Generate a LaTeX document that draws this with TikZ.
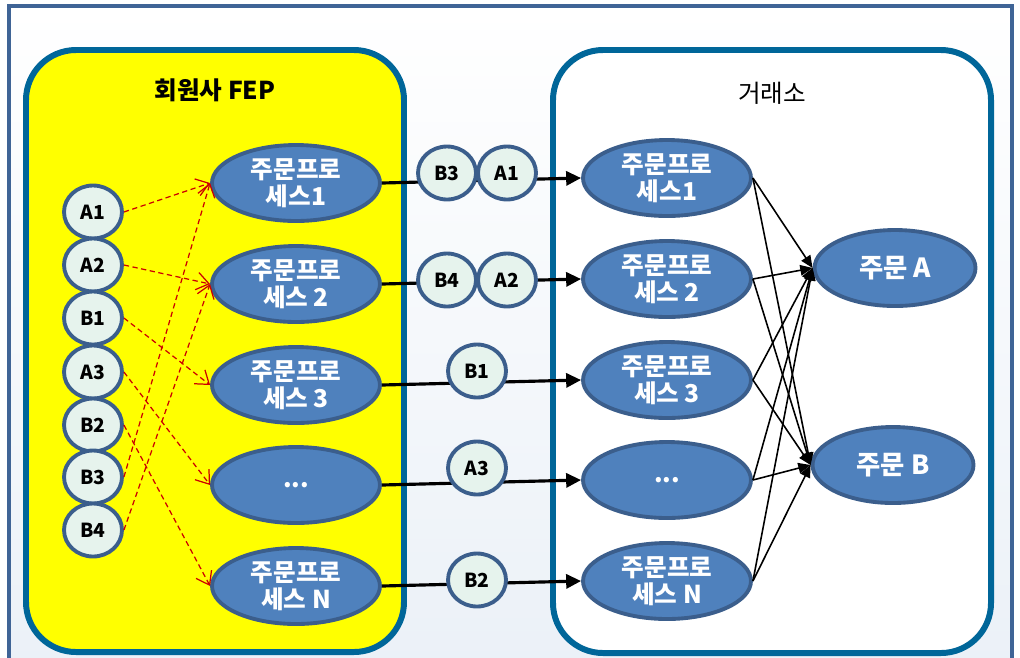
\documentclass[tikz,border=0pt]{standalone}
\usepackage{fontspec}
\setmainfont{Noto Sans CJK KR}
\usetikzlibrary{shapes.geometric, arrows.meta}

\definecolor{procblue}{RGB}{79,129,189}
\definecolor{procedge}{RGB}{59,94,140}
\definecolor{msgfill}{RGB}{230,243,237}
\definecolor{boxedge}{RGB}{0,102,153}
\definecolor{frameedge}{RGB}{63,100,150}
\definecolor{bgblue}{RGB}{234,240,247}
\definecolor{fepyellow}{RGB}{255,255,0}
\definecolor{dashred}{RGB}{204,0,0}

\begin{document}
\begin{tikzpicture}[x=0.02cm, y=-0.02cm]
	\tikzstyle{proc} = [ellipse, fill=procblue, draw=procedge, line width=2.2pt, minimum width=3.36cm, minimum height=1.52cm, inner sep=0pt, text=white, align=center, font=\bfseries\fontsize{14}{15.5}\selectfont]
	\tikzstyle{order} = [proc, minimum width=3.22cm, font=\bfseries\fontsize{15}{17}\selectfont]
	\tikzstyle{msg} = [ellipse, fill=msgfill, draw=procedge, line width=2.2pt, minimum width=1.16cm, minimum height=1.06cm, inner sep=0pt, font=\bfseries\fontsize{11}{12}\selectfont]
	\tikzstyle{box} = [draw=boxedge, line width=3.4pt, rounded corners=1cm]
	\tikzstyle{title} = [font=\fontsize{14}{16}\selectfont]
	\tikzstyle{feed} = [draw=dashred, line width=0.7pt, dash pattern=on 3pt off 2pt, -{Straight Barb[length=7pt,width=10pt]}]
	\tikzstyle{send} = [draw=black, line width=1.8pt, -{Triangle[length=8.5pt,width=8pt]}]
	\tikzstyle{route} = [draw=black, line width=0.9pt, -{Triangle[length=7pt,width=6pt]}]
	\useasboundingbox (0,0) rectangle (1020,657);

	% frame and the two boxes
	\shade[top color=white, bottom color=bgblue] (9,6) rectangle (1012,700);
	\draw[frameedge, line width=2.3pt] (9,6) rectangle (1012,700);
	\draw[box, fill=fepyellow] (26,50) rectangle (404,652);
	\draw[box, fill=white] (553,50) rectangle (991,653);
	\node[title] (fep) at (215,90) {\bfseries 회원사 FEP};
	\node[title] (krx) at (772,93) {거래소};

	% order processes
	\node[proc] (L1) at (296,183) {주문프로\\세스1};
	\node[proc] (L2) at (296,284) {주문프로\\세스 2};
	\node[proc] (L3) at (296,385) {주문프로\\세스 3};
	\node[proc] (L4) at (296,485) {...};
	\node[proc] (LN) at (296,586) {주문프로\\세스 N};
	\node[proc] (R1) at (667,178) {주문프로\\세스1};
	\node[proc] (R2) at (667,279) {주문프로\\세스 2};
	\node[proc] (R3) at (667,380) {주문프로\\세스 3};
	\node[proc] (R4) at (667,480) {...};
	\node[proc] (RN) at (667,581) {주문프로\\세스 N};
	\node[order] (OA) at (895,268) {주문 A};
	\node[order] (OB) at (893,465) {주문 B};

	% sending lines
	\draw[send] (L1.east)--(R1.west);
	\draw[send] (L2.east)--(R2.west);
	\draw[send] (L3.east)--(R3.west);
	\draw[send] (L4.east)--(R4.west);
	\draw[send] (LN.east)--(RN.west);
	\node[msg] (mB3) at (447,173) {B3};
	\node[msg] (mA1) at (507,173) {A1};
	\node[msg] (mB4) at (447,280) {B4};
	\node[msg] (mA2) at (507,280) {A2};
	\node[msg] (mB1) at (477,371) {B1};
	\node[msg] (mA3) at (477,468) {A3};
	\node[msg] (mB2) at (477,580) {B2};

	% incoming orders
	\node[msg] (A1) at (93,212) {A1};
	\node[msg] (A2) at (93,265) {A2};
	\node[msg] (B1) at (93,318) {B1};
	\node[msg] (A3) at (93,372) {A3};
	\node[msg] (B2) at (93,425) {B2};
	\node[msg] (B3) at (93,477) {B3};
	\node[msg] (B4) at (93,530) {B4};
	\draw[feed] (A1.east)--(L1.west);
	\draw[feed] (A2.east)--(L2.west);
	\draw[feed] (B1.east)--(L3.west);
	\draw[feed] (A3.east)--(L4.west);
	\draw[feed] (B2.east)--(LN.west);
	\draw[feed] (B3.east)--(L1.west);
	\draw[feed] (B4.east)--(L2.west);

	% to the order books
	\draw[route] (R1.east)--(OA.west);
	\draw[route] (R1.east)--(OB.west);
	\draw[route] (R2.east)--(OA.west);
	\draw[route] (R2.east)--(OB.west);
	\draw[route] (R3.east)--(OA.west);
	\draw[route] (R3.east)--(OB.west);
	\draw[route] (R4.east)--(OA.west);
	\draw[route] (R4.east)--(OB.west);
	\draw[route] (RN.east)--(OA.west);
	\draw[route] (RN.east)--(OB.west);
\end{tikzpicture}
\end{document}
